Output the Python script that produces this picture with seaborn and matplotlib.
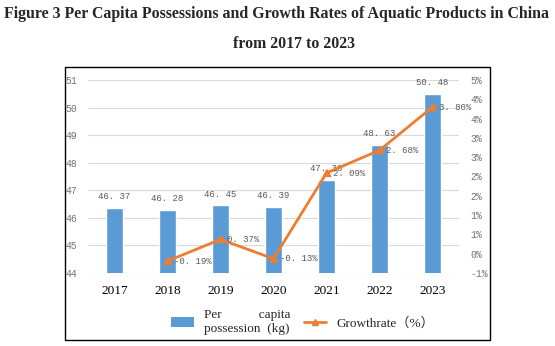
import math
import numpy as np
import pandas as pd
import matplotlib
matplotlib.use("Agg")
import matplotlib.pyplot as plt
import seaborn as sns
from matplotlib.lines import Line2D
from matplotlib.patches import Patch, Rectangle
from matplotlib.ticker import FuncFormatter, MultipleLocator

years = ["2017", "2018", "2019", "2020", "2021", "2022", "2023"]
per_capita = [46.37, 46.28, 46.45, 46.39, 47.36, 48.63, 50.48]
growth = [np.nan, -0.19, 0.37, -0.13, 2.09, 2.68, 3.80]
bar_labels = ["46. 37", "46. 28", "46. 45", "46. 39", "47. 36", "48. 63", "50. 48"]
growth_labels = ["", "-0. 19%", "0. 37%", "-0. 13%", "2. 09%", "2. 68%", "3. 80%"]
title1 = "Figure 3 Per Capita Possessions and Growth Rates of Aquatic Products in China"
title2 = "from 2017 to 2023"
legend_bar = "Per           capita\npossession  (kg)"
legend_line = "Growthrate\uff08%\uff09"

df = pd.DataFrame({"year": years, "kg": per_capita, "growth": growth})

sns.set_theme(style="white")
serif = ["Liberation Serif", "Noto Sans CJK SC", "DejaVu Sans"]
mono = ["Liberation Mono", "DejaVu Sans Mono"]
plt.rcParams["font.family"] = serif

BLUE = "#5B9BD5"
ORANGE = "#ED7D31"
GRAY = "#737373"

fig = plt.figure(figsize=(5.55, 3.46), dpi=100)
ax = fig.add_axes([88 / 555, 1 - 273 / 346, (459 - 88) / 555, (273 - 80) / 346])

sns.barplot(data=df, x="year", y="kg", color=BLUE, width=0.33, ax=ax,
            saturation=1, order=years)
ax.set_ylim(44, 51)
ax.yaxis.set_major_locator(MultipleLocator(1))
ax.grid(axis="y", color="#d9d9d9", linewidth=0.8)
ax.grid(axis="x", visible=False)
ax.set_axisbelow(True)
for s in ax.spines.values():
    s.set_visible(False)
ax.set_xlabel("")
ax.set_ylabel("")
ax.tick_params(axis="y", length=0, pad=8, labelsize=7, labelcolor=GRAY)
ax.tick_params(axis="x", length=0, pad=9, labelsize=9.5, labelcolor="black")
for lab in ax.get_yticklabels():
    lab.set_family(mono)
for lab in ax.get_xticklabels():
    lab.set_family(serif)

ax.bar_label(ax.containers[0], labels=bar_labels, padding=5, fontsize=6.5,
             color="#595959", family=mono)

ax2 = ax.twinx()
sns.pointplot(data=df, x="year", y="growth", order=years, color=ORANGE,
              markers="^", linestyles="-", ax=ax2, markersize=5, linewidth=2)
ax2.set_ylim(-0.5, 4.5)
ax2.yaxis.set_major_locator(MultipleLocator(0.5))


def pct(v, pos):
    r = math.copysign(math.floor(abs(v) + 0.5 + 1e-9), v)
    return f"{int(r)}%" if r != 0 else "0%"


ax2.yaxis.set_major_formatter(FuncFormatter(pct))
ax2.tick_params(axis="y", length=0, pad=8, labelsize=7, labelcolor=GRAY)
for lab in ax2.get_yticklabels():
    lab.set_family(mono)
ax2.set_ylabel("")
ax2.set_xlabel("")
ax2.grid(False)
for s in ax2.spines.values():
    s.set_visible(False)
ax2.set_xlim(ax.get_xlim())

for i, (g, lab) in enumerate(zip(growth, growth_labels)):
    if not np.isnan(g):
        ax2.annotate(lab, (i, g), xytext=(5, 0), textcoords="offset points",
                     ha="left", va="center", fontsize=6.5, color="#595959",
                     family=mono)

handles = [Patch(facecolor=BLUE, edgecolor="none"),
           Line2D([0], [0], color=ORANGE, linewidth=2, marker="^", markersize=4)]
fig.legend(handles, [legend_bar, legend_line], loc="center",
           bbox_to_anchor=(303 / 555, 1 - 322 / 346), ncol=2, frameon=False,
           handlelength=1.7, handletextpad=0.8, columnspacing=1.0,
           prop={"family": serif, "size": 9.5})

fig.text(277 / 555, 1 - 14 / 346, title1, ha="center", va="center",
         fontsize=11.4, fontweight="bold", family=serif)
fig.text(294 / 555, 1 - 44 / 346, title2, ha="center", va="center",
         fontsize=11.4, fontweight="bold", family=serif)

fig.patches.append(Rectangle((65 / 555, 1 - 340 / 346), (490 - 65) / 555,
                             (340 - 67) / 346, transform=fig.transFigure,
                             fill=False, edgecolor="black", linewidth=1))

fig.savefig("out.png", dpi=100)
